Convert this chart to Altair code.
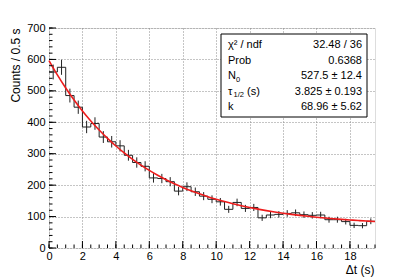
import altair as alt
import pandas as pd

# ---------------- data ----------------
BIN_WIDTH = 0.5
counts = [560, 575, 485, 448, 385, 396, 353, 338, 325, 295,
          272, 260, 223, 221, 211, 181, 195, 179, 165, 155,
          147, 123, 145, 126, 129, 96, 105, 107, 110, 112,
          106, 104, 105, 90, 90, 84, 72, 71, 85]
# fitted curve, at every bin edge (0 ... 19.5 s)
fit_values = [596.5, 550.8, 509.1, 471.0, 436.1, 404.4, 375.3, 348.8, 324.5, 302.4,
              282.2, 263.7, 246.8, 231.4, 217.4, 204.5, 192.8, 182.1, 172.3, 163.3,
              155.2, 147.7, 140.9, 134.6, 129.0, 123.8, 119.0, 114.7, 110.7, 107.1,
              103.8, 100.8, 98.0, 95.5, 93.2, 91.1, 89.2, 87.4, 85.8, 84.4]
x_major = [0, 2, 4, 6, 8, 10, 12, 14, 16, 18]
x_minor = [i * 0.5 for i in range(40)]
y_major = [0, 100, 200, 300, 400, 500, 600, 700]
y_minor = [i * 20 for i in range(36)]

stat_labels = ["χ² / ndf", "Prob", "N", "τ", "k"]
stat_values = ["32.48 / 36", "0.6368", "527.5 ± 12.4", "3.825 ± 0.193", "68.96 ± 5.62"]

# ---------------- tables ----------------
edges = [i * BIN_WIDTH for i in range(len(counts) + 1)]
step_df = pd.DataFrame({"t": edges, "n": counts + [counts[-1]]})
err_df = pd.DataFrame({
    "t": [e + BIN_WIDTH / 2 for e in edges[:-1]],
    "lo": [c - c ** 0.5 for c in counts],
    "hi": [c + c ** 0.5 for c in counts],
})
fit_df = pd.DataFrame({"t": edges, "f": fit_values})

W, H = 326, 220
FONT = "Liberation Sans"
XT = "Δt (s)"
YT = "Counts / 0.5 s"

xs = alt.Scale(domain=[0, 19.5], nice=False, zero=False)
ys = alt.Scale(domain=[0, 700], nice=False)

common = dict(ticks=False, domain=False, labelFlush=False, labelOverlap=False,
              grid=True, gridColor="#8a8a8a", gridDash=[1, 2], gridWidth=1,
              labelFont=FONT, labelFontSize=11, labelColor="black",
              titleFont=FONT, titleFontSize=12, titleFontWeight="normal",
              titleColor="black")
xaxis = alt.Axis(values=x_major, title=XT, labelPadding=2,
                 titleAnchor="end", titleAlign="right", titleX=325, titleY=25,
                 titleBaseline="alphabetic", **common)
yaxis = alt.Axis(values=y_major, title=YT, labelPadding=4,
                 titleAngle=270, titleAlign="right", titleX=-30, titleY=0,
                 titleBaseline="alphabetic", **common)

def X(field):
    return alt.X(field, scale=xs, axis=xaxis, title=XT)

def Y(field):
    return alt.Y(field, scale=ys, axis=yaxis, title=YT)

hist = alt.Chart(step_df).mark_line(interpolate="step-after", color="#222222",
                                    strokeWidth=1).encode(x=X("t:Q"), y=Y("n:Q"))

errs = alt.Chart(err_df).mark_rule(color="#222222", strokeWidth=1).encode(
    x=X("t:Q"), y=Y("lo:Q"), y2="hi:Q")

fit = alt.Chart(fit_df).mark_line(interpolate="monotone", color="#ee1c1c",
                                  strokeWidth=1.6).encode(x=X("t:Q"), y=Y("f:Q"))

def xticks(vals, length):
    return alt.Chart(pd.DataFrame({"t": vals})).mark_rule(color="black", strokeWidth=1).encode(
        x=X("t:Q"), y=alt.value(H), y2=alt.value(H - length))

def yticks(vals, length):
    return alt.Chart(pd.DataFrame({"v": vals})).mark_rule(color="black", strokeWidth=1).encode(
        y=Y("v:Q"), x=alt.value(0), x2=alt.value(length))

one = pd.DataFrame({"a": [0]})
box = alt.Chart(one).mark_rect(fill="white", stroke="black", strokeWidth=1).encode(
    x=alt.value(172), x2=alt.value(318), y=alt.value(6), y2=alt.value(89)
)

layers = [hist, errs, fit,
          xticks(x_minor, 3.5), xticks(x_major, 7),
          yticks(y_minor, 3.5), yticks(y_major, 7),
          box]

row_y = [17, 32.5, 48, 63.5, 79]
FS = 11
for i, (lab, val) in enumerate(zip(stat_labels, stat_values)):
    layers.append(alt.Chart(one).mark_text(align="left", baseline="middle", font=FONT,
                                           fontSize=FS, color="black", text=lab).encode(
        x=alt.value(179), y=alt.value(row_y[i])))
    layers.append(alt.Chart(one).mark_text(align="right", baseline="middle", font=FONT,
                                           fontSize=FS, color="black", text=val).encode(
        x=alt.value(313), y=alt.value(row_y[i])))

# subscripts / suffixes
layers.append(alt.Chart(one).mark_text(align="left", baseline="middle", font=FONT,
                                       fontSize=7.5, color="black", text="0").encode(
    x=alt.value(187), y=alt.value(row_y[2] + 3.5)))
layers.append(alt.Chart(one).mark_text(align="left", baseline="middle", font=FONT,
                                       fontSize=7.5, color="black", text="1/2").encode(
    x=alt.value(184.5), y=alt.value(row_y[3] + 3.5)))
layers.append(alt.Chart(one).mark_text(align="left", baseline="middle", font=FONT,
                                       fontSize=FS, color="black", text="(s)").encode(
    x=alt.value(198), y=alt.value(row_y[3])))

chart = alt.layer(*layers).properties(
    width=W, height=H,
    autosize=alt.AutoSizeParams(type="none"),
    padding={"left": 41, "top": 20, "right": 24, "bottom": 30},
).configure_view(
    stroke="black", strokeWidth=1, fill="white"
).configure(background="white")

chart.save("out.html", embed_options={"renderer": "svg", "actions": False})
